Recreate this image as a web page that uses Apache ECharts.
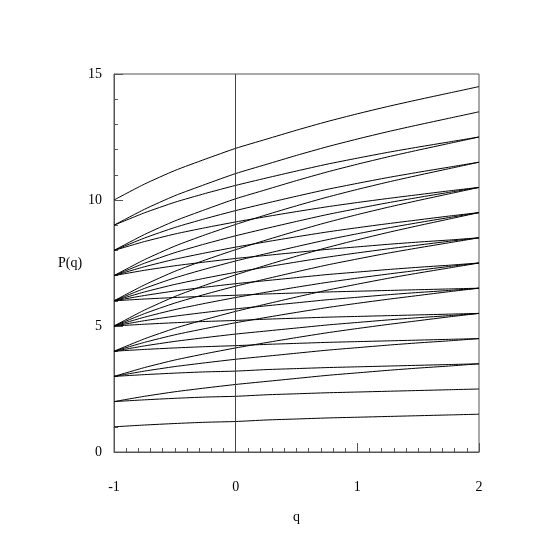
<!DOCTYPE html>
<html>
<head>
<meta charset="utf-8">
<script src="https://cdn.jsdelivr.net/npm/echarts@6/dist/echarts.min.js"></script>
<style>
html,body{margin:0;padding:0;background:#fff;}
#chart{width:554px;height:554px;}
</style>
</head>
<body>
<div id="chart"></div>
<script>
// q values at which each curve was read
const qValues = [-1, -0.75, -0.5, -0.25, 0, 0.25, 0.5, 0.75, 1, 1.25, 1.5, 1.75, 2];
// P(q) curves grouped by their starting value at q = -1
const from1 = [
  [1,1.07,1.13,1.18,1.21,1.27,1.31,1.35,1.38,1.41,1.44,1.47,1.5]];
const from2 = [
  [2,2.07,2.13,2.18,2.21,2.27,2.31,2.35,2.38,2.41,2.44,2.47,2.5],
  [2,2.21,2.39,2.54,2.68,2.8,2.92,3.04,3.14,3.24,3.33,3.41,3.5]];
const from3 = [
  [3,3.07,3.13,3.18,3.21,3.27,3.31,3.35,3.38,3.41,3.44,3.47,3.5],
  [3,3.21,3.39,3.54,3.68,3.8,3.92,4.04,4.14,4.24,4.33,4.41,4.5],
  [3,3.35,3.65,3.9,4.13,4.34,4.54,4.73,4.9,5.06,5.21,5.36,5.5]];
const from4 = [
  [4,4.07,4.13,4.18,4.22,4.27,4.31,4.35,4.38,4.41,4.44,4.47,4.5],
  [4,4.21,4.39,4.54,4.68,4.8,4.92,5.04,5.14,5.24,5.33,5.41,5.5],
  [4,4.35,4.65,4.9,5.13,5.34,5.54,5.73,5.9,6.06,6.21,6.36,6.5],
  [4,4.49,4.91,5.26,5.58,5.87,6.15,6.42,6.66,6.89,7.1,7.3,7.5]];
const from5 = [
  [5,5.07,5.13,5.18,5.22,5.27,5.31,5.35,5.38,5.41,5.44,5.47,5.5],
  [5,5.21,5.39,5.54,5.68,5.8,5.92,6.04,6.14,6.24,6.33,6.41,6.5],
  [5,5.35,5.65,5.9,6.13,6.34,6.54,6.73,6.9,7.06,7.21,7.36,7.5],
  [5,5.49,5.91,6.26,6.58,6.87,7.15,7.42,7.66,7.89,8.1,8.3,8.5],
  [5,5.63,6.17,6.62,7.03,7.41,7.77,8.11,8.42,8.71,8.98,9.24,9.5]];
const from6 = [
  [6,6.07,6.13,6.18,6.22,6.27,6.31,6.35,6.38,6.41,6.44,6.47,6.5],
  [6,6.21,6.39,6.54,6.68,6.8,6.92,7.04,7.14,7.24,7.33,7.41,7.5],
  [6,6.35,6.65,6.9,7.13,7.34,7.54,7.73,7.9,8.06,8.21,8.36,8.5],
  [6,6.49,6.91,7.26,7.58,7.87,8.15,8.42,8.66,8.89,9.1,9.3,9.5],
  [6,6.63,7.17,7.62,8.03,8.41,8.77,9.11,9.42,9.71,9.98,10.24,10.5]];
const from7 = [
  [7,7.21,7.39,7.54,7.68,7.8,7.92,8.04,8.14,8.24,8.33,8.41,8.5],
  [7,7.35,7.65,7.9,8.13,8.34,8.54,8.73,8.9,9.06,9.21,9.36,9.5],
  [7,7.49,7.91,8.26,8.58,8.87,9.15,9.42,9.66,9.89,10.1,10.3,10.5],
  [7,7.63,8.17,8.62,9.03,9.41,9.77,10.11,10.42,10.71,10.98,11.24,11.5]];
const from8 = [
  [8,8.35,8.65,8.9,9.13,9.34,9.54,9.73,9.9,10.06,10.21,10.36,10.5],
  [8,8.49,8.91,9.26,9.58,9.87,10.15,10.42,10.66,10.89,11.1,11.3,11.5],
  [8,8.63,9.17,9.62,10.05,10.41,10.77,11.11,11.42,11.71,11.98,12.24,12.5]];
const from9 = [
  [9,9.49,9.91,10.26,10.58,10.87,11.15,11.42,11.66,11.89,12.1,12.3,12.5],
  [9,9.63,10.17,10.62,11.05,11.41,11.77,12.11,12.42,12.71,12.98,13.24,13.5]];
const from10 = [
  [10,10.63,11.17,11.62,12.05,12.41,12.77,13.11,13.42,13.71,13.98,14.24,14.5]];
const yTickLabels = ['0', '5', '10', '15'];
const xTickLabels = ['-1', '0', '1', '2'];

const groups = [from1, from2, from3, from4, from5, from6, from7, from8, from9, from10];
const series = [];
groups.forEach(g => g.forEach(vals => {
  series.push({
    type: 'line',
    data: vals.map((v, i) => [qValues[i], v]),
    showSymbol: false,
    symbol: 'none',
    smooth: 0.2,
    silent: true,
    lineStyle: {color: '#000', width: 1},
    z: 3
  });
}));
// vertical line at q = 0
series.push({
  type: 'line', data: [], silent: true,
  markLine: {
    silent: true, symbol: 'none', animation: false,
    label: {show: false},
    lineStyle: {color: '#444', width: 1, type: 'solid'},
    data: [{xAxis: 0}]
  }
});

const font = 'Liberation Serif, Times New Roman, serif';
const chart = echarts.init(document.getElementById('chart'), null, {renderer: 'canvas'});
chart.setOption({
  animation: false,
  backgroundColor: '#fff',
  grid: {left: 114, right: 75, top: 74, bottom: 102, show: true, borderColor: '#555', borderWidth: 1, containLabel: false},
  xAxis: {
    type: 'value', min: -1, max: 2, interval: 1,
    name: 'q', nameLocation: 'middle', nameGap: 58,
    nameTextStyle: {fontFamily: font, fontSize: 14, color: '#000'},
    axisLine: {show: true, onZero: false, lineStyle: {color: '#555', width: 1}},
    axisTick: {show: true, inside: true, length: 9, lineStyle: {color: '#555'}},
    minorTick: {show: true, splitNumber: 10, length: 4, lineStyle: {color: '#555'}},
    splitLine: {show: false}, minorSplitLine: {show: false},
    axisLabel: {margin: 28, fontFamily: font, fontSize: 14, color: '#000',
      formatter: v => xTickLabels[Math.round(v + 1)]}
  },
  yAxis: {
    type: 'value', min: 0, max: 15, interval: 5,
    name: 'P(q)', nameLocation: 'middle', nameGap: 22, nameRotate: 0,
    nameTextStyle: {fontFamily: font, fontSize: 14, color: '#000'},
    axisLine: {show: true, onZero: false, lineStyle: {color: '#555', width: 1}},
    axisTick: {show: true, inside: true, length: 9, lineStyle: {color: '#555'}},
    minorTick: {show: true, splitNumber: 5, length: 4, lineStyle: {color: '#555'}},
    splitLine: {show: false}, minorSplitLine: {show: false},
    axisLabel: {margin: 12, fontFamily: font, fontSize: 14, color: '#000',
      formatter: v => yTickLabels[Math.round(v / 5)]}
  },
  series: series
});
</script>
</body>
</html>
